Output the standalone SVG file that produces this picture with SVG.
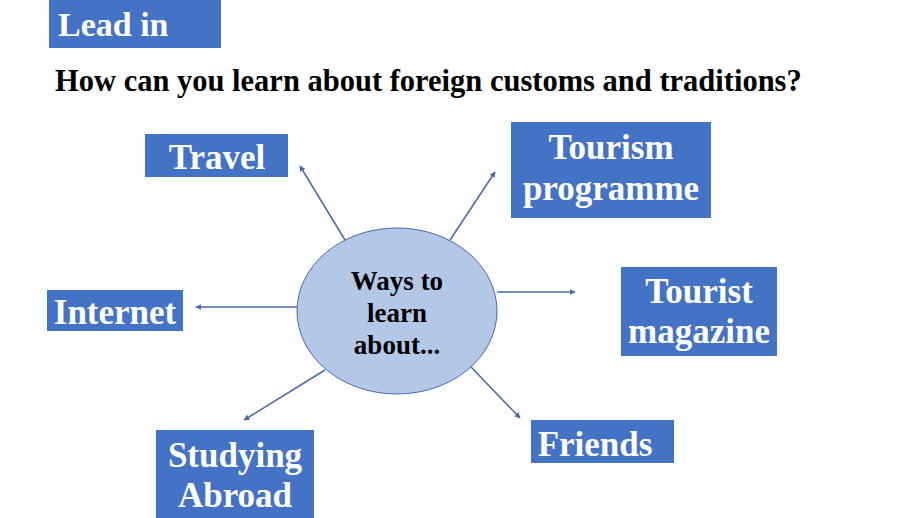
<svg xmlns="http://www.w3.org/2000/svg" width="920" height="518" viewBox="0 0 920 518">
<style>
.box{fill:#4472C4;}
.lbl{font-family:"Liberation Serif",serif;font-weight:bold;fill:#ffffff;font-size:35px;text-anchor:middle;}
.q{font-family:"Liberation Serif",serif;font-weight:bold;fill:#000;font-size:30.5px;}
.ctr{font-family:"Liberation Serif",serif;font-weight:bold;fill:#000;font-size:27px;text-anchor:middle;}
.conn{stroke:#4A69AE;stroke-width:1.5;fill:none;marker-end:url(#arr);}
</style>
<defs>
<marker id="arr" viewBox="0 0 10 10" refX="9" refY="5" markerWidth="6" markerHeight="6" orient="auto" markerUnits="userSpaceOnUse">
<path d="M0,0 L10,5 L0,10 z" fill="#4A69AE"/>
</marker>
</defs>
<rect width="920" height="518" fill="#ffffff"/>
<g id="title">
<rect class="box" x="49" y="0" width="172" height="48"/>
<text class="lbl" x="58" y="36" style="text-anchor:start;font-size:34px">Lead in</text>
</g>
<text class="q" x="55" y="91">How can you learn about foreign customs and traditions?</text>
<g id="connectors">
<line class="conn" x1="345" y1="240" x2="300" y2="166"/>
<line class="conn" x1="450" y1="240" x2="495" y2="172"/>
<line class="conn" x1="497" y1="292" x2="575" y2="292"/>
<line class="conn" x1="297" y1="307" x2="196" y2="307"/>
<line class="conn" x1="325" y1="370" x2="244" y2="420"/>
<line class="conn" x1="471" y1="367" x2="520" y2="418"/>
</g>
<g id="center">
<ellipse cx="397" cy="311" rx="100" ry="83" fill="#B4C7E7" stroke="#4A69AE" stroke-width="1"/>
<text class="ctr" x="397" y="290">Ways to</text>
<text class="ctr" x="397" y="322">learn</text>
<text class="ctr" x="397" y="354">about...</text>
</g>
<g id="travel">
<rect class="box" x="145" y="134" width="143" height="43"/>
<text class="lbl" x="217" y="169">Travel</text>
</g>
<g id="tourism">
<rect class="box" x="511" y="122" width="200" height="96"/>
<text class="lbl" x="611" y="159">Tourism</text>
<text class="lbl" x="611" y="200">programme</text>
</g>
<g id="magazine">
<rect class="box" x="621" y="267" width="156" height="89"/>
<text class="lbl" x="699" y="303">Tourist</text>
<text class="lbl" x="699" y="343">magazine</text>
</g>
<g id="internet">
<rect class="box" x="47" y="290" width="136" height="41"/>
<text class="lbl" x="115" y="324">Internet</text>
</g>
<g id="studying">
<rect class="box" x="156" y="430" width="158" height="88"/>
<text class="lbl" x="235" y="467">Studying</text>
<text class="lbl" x="235" y="507">Abroad</text>
</g>
<g id="friends">
<rect class="box" x="531" y="420" width="143" height="43"/>
<text class="lbl" x="595" y="456">Friends</text>
</g>
</svg>
